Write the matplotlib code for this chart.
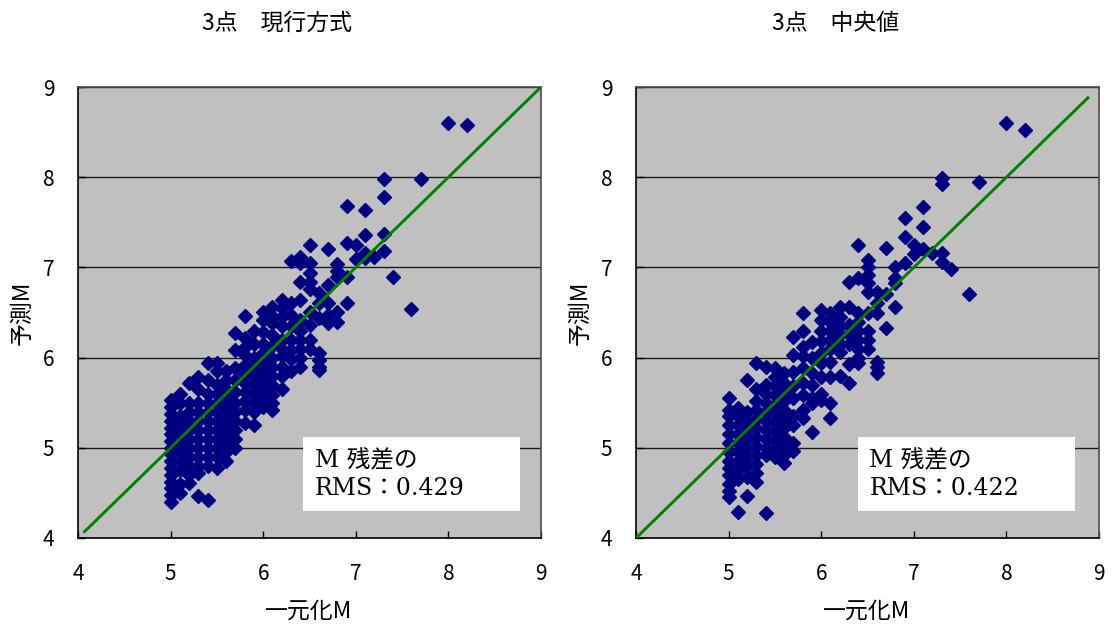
import matplotlib.pyplot as plt
from matplotlib.patches import Rectangle

plt.rcParams['font.family'] = ['Noto Sans CJK JP', 'DejaVu Sans']

# M values are on a 0.1 grid, so each panel is kept as columns of predicted M
genko_cols = [5.0, 5.1, 5.2, 5.3, 5.4, 5.5, 5.6, 5.7, 5.8, 5.9, 6.0, 6.1, 6.2,
              6.3, 6.4, 6.5, 6.6, 6.7, 6.8, 6.9, 7.0, 7.1, 7.2, 7.3, 7.4, 7.6,
              7.7, 8.0, 8.2]
genko_pred = [
    [5.53, 5.45, 5.38, 5.3, 5.22, 5.15, 5.08, 5.0, 4.93, 4.85, 4.78, 4.7, 4.62, 4.55, 4.48, 4.4],
    [5.6, 5.5, 5.35, 5.25, 5.15, 5.05, 4.95, 4.85, 4.75, 4.6, 4.5],
    [5.72, 5.5, 5.4, 5.3, 5.2, 5.1, 5.0, 4.9, 4.8, 4.7, 4.61],
    [5.79, 5.65, 5.5, 5.4, 5.3, 5.2, 5.1, 5.0, 4.9, 4.8, 4.72, 4.47],
    [5.94, 5.75, 5.6, 5.5, 5.4, 5.3, 5.2, 5.1, 5.0, 4.9, 4.8, 4.42],
    [5.94, 5.85, 5.7, 5.6, 5.5, 5.4, 5.3, 5.2, 5.1, 5.0, 4.9, 4.78],
    [5.85, 5.75, 5.65, 5.55, 5.45, 5.35, 5.25, 5.15, 5.05, 4.95, 4.85],
    [6.27, 6.08, 5.88, 5.75, 5.62, 5.5, 5.4, 5.3, 5.2, 5.1, 5.0],
    [6.46, 6.22, 6.12, 6.03, 5.92, 5.82, 5.72, 5.62, 5.52, 5.42, 5.27],
    [6.3, 6.15, 6.0, 5.9, 5.8, 5.7, 5.6, 5.5, 5.4, 5.25],
    [6.5, 6.42, 6.28, 6.15, 6.05, 5.95, 5.85, 5.75, 5.65, 5.55, 5.45],
    [6.56, 6.46, 6.38, 6.25, 6.13, 6.0, 5.9, 5.8, 5.7, 5.58, 5.5, 5.42],
    [6.64, 6.55, 6.45, 6.35, 6.2, 6.1, 6.02, 5.9, 5.8, 5.65],
    [7.07, 6.6, 6.47, 6.35, 6.2, 6.08, 5.98, 5.85],
    [7.12, 7.05, 6.84, 6.64, 6.42, 6.3, 6.2, 6.1, 6.0, 5.9],
    [7.25, 7.05, 6.94, 6.84, 6.76, 6.5, 6.36, 6.2, 6.1],
    [6.72, 6.6, 6.44, 6.05, 5.97, 5.9, 5.86],
    [7.2, 6.8, 6.6, 6.47, 6.38],
    [7.04, 6.96, 6.89, 6.5, 6.4],
    [7.68, 7.27, 6.89, 6.6],
    [7.25, 7.09],
    [7.64, 7.36, 7.16, 7.1],
    [7.12],
    [7.98, 7.78, 7.37, 7.18],
    [6.89],
    [6.54],
    [7.98],
    [8.6],
    [8.58],
]

chuo_cols = [5.0, 5.1, 5.2, 5.3, 5.4, 5.5, 5.6, 5.7, 5.8, 5.9, 6.0, 6.1, 6.2,
             6.3, 6.4, 6.5, 6.6, 6.7, 6.8, 6.9, 7.0, 7.1, 7.2, 7.3, 7.4, 7.6,
             7.7, 8.0, 8.2]
chuo_pred = [
    [5.55, 5.42, 5.35, 5.25, 5.15, 5.05, 4.95, 4.85, 4.78, 4.7, 4.6, 4.52, 4.45],
    [5.44, 5.35, 5.25, 5.15, 5.05, 4.95, 4.85, 4.75, 4.65, 4.29],
    [5.75, 5.4, 5.3, 5.2, 5.1, 5.0, 4.9, 4.8, 4.68, 4.47],
    [5.94, 5.65, 5.52, 5.42, 5.32, 5.22, 5.12, 5.02, 4.92, 4.82, 4.72, 4.62],
    [5.9, 5.7, 5.6, 5.5, 5.4, 5.3, 5.2, 5.1, 5.0, 4.92, 4.28],
    [5.88, 5.79, 5.68, 5.58, 5.48, 5.38, 5.28, 5.18, 5.08, 4.98, 4.9],
    [5.83, 5.72, 5.62, 5.52, 5.42, 5.32, 5.22, 5.12, 5.02, 4.92, 4.83],
    [6.23, 6.03, 5.84, 5.68, 5.55, 5.35, 5.25, 5.05, 4.96],
    [6.49, 6.3, 6.12, 6.02, 5.88, 5.72, 5.58, 5.42, 5.33],
    [6.17, 6.0, 5.83, 5.7, 5.55, 5.5, 5.18],
    [6.53, 6.42, 6.3, 6.18, 6.05, 5.94, 5.78, 5.6, 5.53],
    [6.49, 6.4, 6.3, 6.2, 6.1, 5.95, 5.78, 5.5, 5.33],
    [6.56, 6.45, 6.35, 6.25, 6.15, 6.06, 5.8],
    [6.84, 6.56, 6.36, 6.26, 6.15, 5.93, 5.72],
    [7.25, 6.88, 6.49, 6.4, 6.3, 6.2, 6.1, 6.0, 5.94],
    [7.08, 7.0, 6.92, 6.83, 6.73, 6.49, 6.3, 6.2, 6.1],
    [6.73, 6.6, 6.49, 5.95, 5.9, 5.83],
    [7.22, 6.7, 6.33],
    [7.0, 6.88, 6.83, 6.56],
    [7.55, 7.34, 7.05],
    [7.25, 7.15],
    [7.67, 7.45, 7.2],
    [7.16],
    [7.99, 7.92, 7.16, 7.06],
    [6.98],
    [6.7],
    [7.95],
    [8.6],
    [8.52],
]

titles = ['3点\u3000現行方式', '3点\u3000中央値']
rms_values = [0.429, 0.422]
diag_ranges = [(4.07, 9.0), (4.0, 8.88)]
ticks = [4, 5, 6, 7, 8, 9]

W, H = 1112, 624
fig = plt.figure(figsize=(W / 100, H / 100), dpi=100)

panels = [
    (78, genko_cols, genko_pred, 0.486),
    (636, chuo_cols, chuo_pred, 0.479),
]

for i, (left_px, cols, preds, box_x) in enumerate(panels):
    ax = fig.add_axes([left_px / W, 86 / H, 463 / W, 451 / H])
    ax.set_facecolor('#C0C0C0')

    xs = [c for c, ys in zip(cols, preds) for _ in ys]
    ys = [y for ys_col in preds for y in ys_col]
    ax.plot(xs, ys, linestyle='none', marker='D', markersize=6.9,
            color='#000080', mec='#000080', zorder=3)

    lo, hi = diag_ranges[i]
    ax.plot([lo, hi], [lo, hi], color='#008000', linewidth=2.1, zorder=4)

    ax.set_xlim(4, 9)
    ax.set_ylim(4, 9)
    ax.set_xticks(ticks)
    ax.set_yticks(ticks)
    ax.tick_params(direction='in', length=5, width=1, labelsize=15,
                   colors='black')
    ax.tick_params(axis='y', pad=17)
    ax.tick_params(axis='x', pad=18)
    ax.yaxis.grid(True, color='#1a1a1a', linewidth=1.0)
    ax.set_axisbelow(True)
    for side in ('left', 'bottom'):
        ax.spines[side].set_color('black')
        ax.spines[side].set_linewidth(1.2)
    for side in ('top', 'right'):
        ax.spines[side].set_color('#4d4d4d')
        ax.spines[side].set_linewidth(1.2)

    # white box with the residual RMS
    ax.add_patch(Rectangle((box_x, 0.06), 0.469, 0.164, transform=ax.transAxes,
                           facecolor='white', edgecolor='none', zorder=5))
    ax.text(box_x + 0.025, 0.14, f'M 残差の\nRMS：{rms_values[i]:.3f}',
            transform=ax.transAxes, ha='left', va='center', fontsize=17,
            linespacing=1.25, family=['DejaVu Serif', 'Noto Sans CJK JP'],
            zorder=6)

    centre = left_px + 231.5
    fig.text((centre - 32) / W, 1 - 23 / H, titles[i], ha='center',
             va='center', fontsize=16.5)
    fig.text((centre - 1) / W, 1 - 611 / H, '一元化M', ha='center',
             va='center', fontsize=16.5)
    fig.text((left_px - 56) / W, 1 - 313 / H, '予測M', ha='center',
             va='center', rotation=90, fontsize=16.5)

fig.savefig('out.png', dpi=100)
